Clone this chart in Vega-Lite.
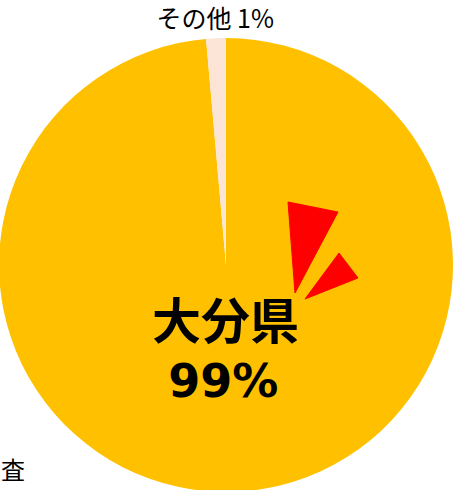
{
  "$schema": "https://vega.github.io/schema/vega-lite/v6.json",
  "width": 452,
  "height": 450,
  "padding": {"left": 0, "top": 40, "right": 5, "bottom": 0},
  "autosize": {"type": "none"},
  "background": "white",
  "config": {"view": {"stroke": null}, "font": "Noto Sans CJK JP"},
  "datasets": {
    "pie": [
      {"name": "大分県", "value": 98.6, "pct": "99%", "label": "大分県 99%"},
      {"name": "その他", "value": 1.4, "pct": "1%", "label": "その他 1%"}
    ],
    "burst": [
      {"shape": "a", "i": 1, "px": 288, "py": 202},
      {"shape": "a", "i": 2, "px": 338, "py": 212},
      {"shape": "a", "i": 3, "px": 295, "py": 293},
      {"shape": "b", "i": 1, "px": 339, "py": 253},
      {"shape": "b", "i": 2, "px": 358, "py": 278},
      {"shape": "b", "i": 3, "px": 305, "py": 299}
    ],
    "note": [{"text": "査", "px": 13, "py": 472}]
  },
  "layer": [
    {
      "data": {"name": "pie"},
      "mark": {"type": "arc", "outerRadius": 227},
      "encoding": {
        "theta": {"field": "value", "type": "quantitative", "stack": true},
        "order": {"field": "value", "sort": "descending"},
        "color": {"field": "name", "type": "nominal", "scale": {"domain": ["大分県", "その他"], "range": ["#FFC000", "#FCE4D6"]}, "legend": null}
      }
    },
    {
      "data": {"name": "pie"},
      "mark": {"type": "text", "radius": 245, "fontSize": 25, "align": "center", "baseline": "middle", "color": "#000000"},
      "encoding": {
        "theta": {"field": "value", "type": "quantitative", "stack": true},
        "order": {"field": "value", "sort": "descending"},
        "text": {"condition": {"test": "datum.name === 'その他'", "field": "label"}, "value": ""}
      }
    },
    {
      "data": {"name": "pie"},
      "mark": {"type": "text", "radius": 59, "dx": -3, "fontSize": 49, "fontWeight": "bold", "align": "center", "baseline": "middle", "color": "#000000"},
      "encoding": {
        "theta": {"field": "value", "type": "quantitative", "stack": true},
        "order": {"field": "value", "sort": "descending"},
        "text": {"condition": {"test": "datum.name === '大分県'", "field": "name"}, "value": ""}
      }
    },
    {
      "data": {"name": "pie"},
      "mark": {"type": "text", "radius": 118, "dx": -8, "font": "DejaVu Sans", "fontSize": 46, "fontWeight": "bold", "align": "center", "baseline": "middle", "color": "#000000"},
      "encoding": {
        "theta": {"field": "value", "type": "quantitative", "stack": true},
        "order": {"field": "value", "sort": "descending"},
        "text": {"condition": {"test": "datum.name === '大分県'", "field": "pct"}, "value": ""}
      }
    },
    {
      "data": {"name": "burst"},
      "mark": {"type": "line", "interpolate": "linear-closed", "fill": "#FF0000", "stroke": "#FF0000", "strokeWidth": 1},
      "encoding": {
        "x": {"field": "px", "type": "quantitative", "scale": {"domain": [0, 452]}, "axis": null},
        "y": {"field": "py", "type": "quantitative", "scale": {"domain": [40, 490], "reverse": true}, "axis": null},
        "detail": {"field": "shape"},
        "order": {"field": "i"}
      }
    },
    {
      "data": {"name": "note"},
      "mark": {"type": "text", "fontSize": 24, "align": "center", "baseline": "middle", "color": "#000000"},
      "encoding": {
        "x": {"field": "px", "type": "quantitative", "scale": {"domain": [0, 452]}, "axis": null},
        "y": {"field": "py", "type": "quantitative", "scale": {"domain": [40, 490], "reverse": true}, "axis": null},
        "text": {"field": "text"}
      }
    }
  ]
}
